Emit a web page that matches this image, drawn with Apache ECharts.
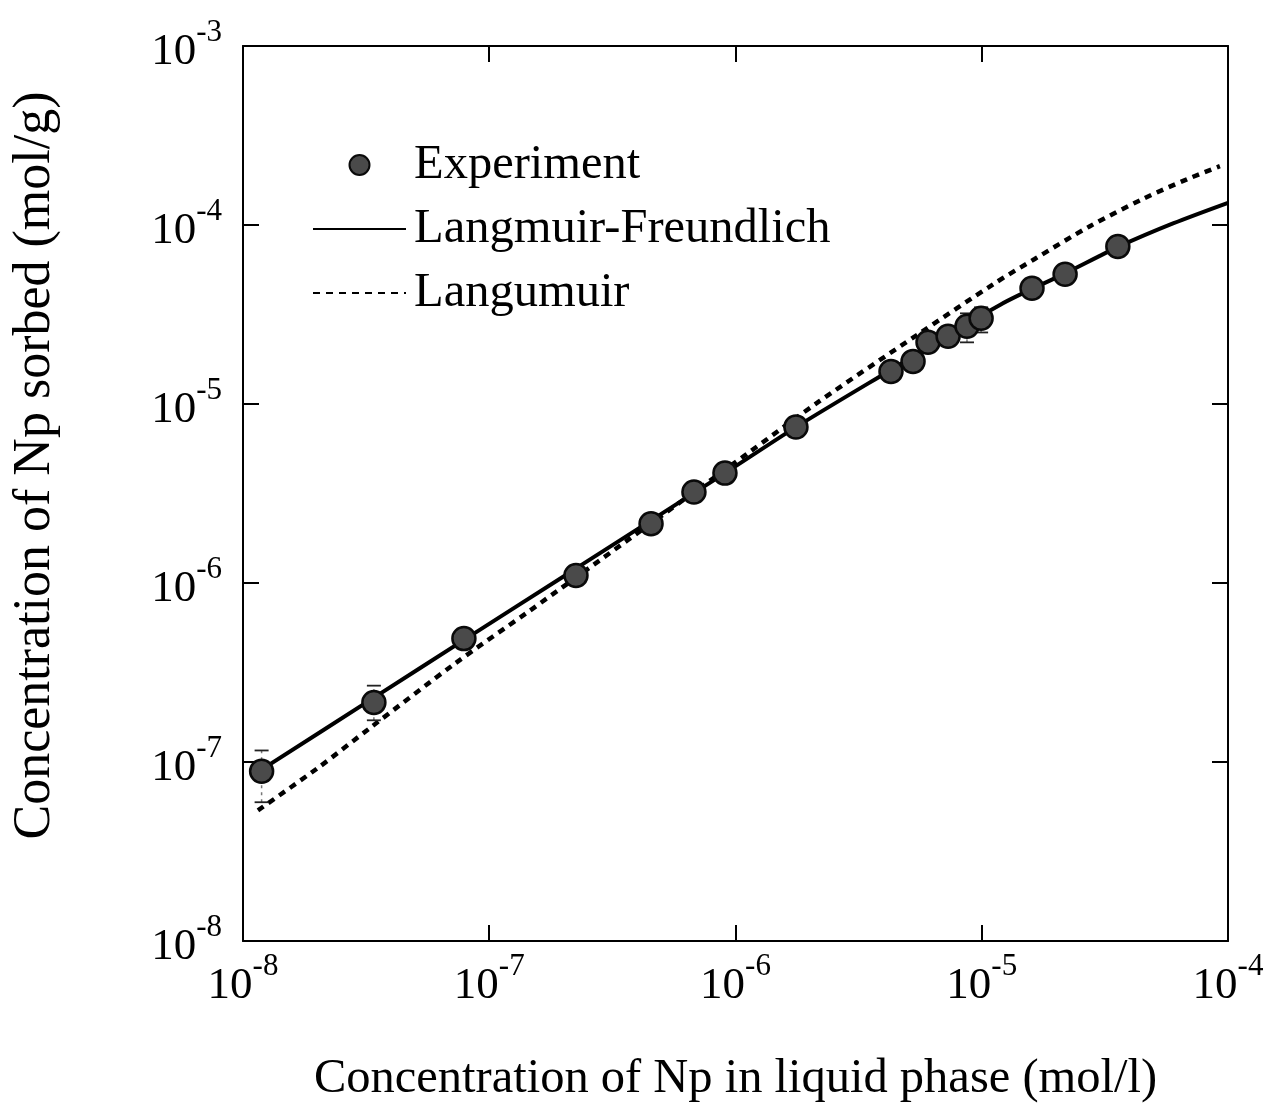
<!DOCTYPE html>
<html>
<head>
<meta charset="utf-8">
<script src="https://cdn.jsdelivr.net/npm/echarts@6/dist/echarts.min.js"></script>
<style>
html,body{margin:0;padding:0;background:#fff;}
#chart{width:1279px;height:1109px;}
</style>
</head>
<body>
<div id="chart"></div>
<script>
// Experimental points
const expC = [1.19e-8, 3.40e-8, 7.89e-8, 2.25e-7, 4.54e-7, 6.78e-7, 9.06e-7, 1.76e-6, 4.28e-6, 5.26e-6, 6.05e-6, 7.30e-6, 8.71e-6, 9.94e-6, 1.60e-5, 2.18e-5, 3.57e-5];
const expQ = [8.87e-8, 2.15e-7, 4.89e-7, 1.10e-6, 2.14e-6, 3.22e-6, 4.11e-6, 7.43e-6, 1.52e-5, 1.73e-5, 2.21e-5, 2.39e-5, 2.72e-5, 3.01e-5, 4.43e-5, 5.30e-5, 7.59e-5];
// Error bars
const errC = [1.19e-8, 3.40e-8, 8.71e-6, 9.94e-6];
const errLow = [5.96e-8, 1.71e-7, 2.21e-5, 2.51e-5];
const errHigh = [1.16e-7, 2.67e-7, 3.21e-5, 3.47e-5];
// Langmuir-Freundlich curve
const lfC = [1.11e-8, 3.44e-8, 8.05e-8, 2.07e-7, 4.09e-7, 9.06e-7, 1.76e-6, 4.24e-6, 1.19e-5, 2.18e-5, 3.64e-5, 5.98e-5, 1.0e-4];
const lfQ = [8.53e-8, 2.31e-7, 4.89e-7, 1.12e-6, 2.04e-6, 4.11e-6, 7.43e-6, 1.54e-5, 3.59e-5, 5.37e-5, 7.62e-5, 1.02e-4, 1.33e-4];
// Langmuir curve
const lC = [1.15e-8, 2.0e-8, 3.28e-8, 7.26e-8, 1.46e-7, 3.66e-7, 1.11e-6, 2.20e-6, 5.51e-6, 1.13e-5, 1.64e-5, 2.75e-5, 4.52e-5, 6.81e-5, 9.27e-5];
const lQ = [5.37e-8, 9.20e-8, 1.55e-7, 3.55e-7, 7.00e-7, 1.74e-6, 5.25e-6, 1.04e-5, 2.45e-5, 4.73e-5, 6.46e-5, 9.85e-5, 1.40e-4, 1.80e-4, 2.13e-4];
// Tick label exponents
const xTickExp = ['-8', '-7', '-6', '-5', '-4'];
const yTickExp = ['-8', '-7', '-6', '-5', '-4', '-3'];
const xName = 'Concentration of Np in liquid phase (mol/l)';
const yName = 'Concentration of Np sorbed (mol/g)';
const legendNames = ['Experiment', 'Langmuir-Freundlich', 'Langumuir'];

const FONT = '"Liberation Serif", "Times New Roman", serif';
const rich = {
  b: {fontSize: 45, fontFamily: FONT, color: '#000', lineHeight: 58, verticalAlign: 'bottom'},
  s: {fontSize: 31, fontFamily: FONT, color: '#000', lineHeight: 31, verticalAlign: 'top'}
};
function fmt(arr, min) {
  return function (v) {
    const e = Math.round(Math.log10(v));
    const s = arr[e - min];
    return '{b|10}{s|' + s + '}';
  };
}
const axisLine = {show: true, lineStyle: {color: '#000', width: 2}};
const axisTick = {show: true, inside: true, length: 16, lineStyle: {color: '#000', width: 2}};

const chart = echarts.init(document.getElementById('chart'), null, {renderer: 'canvas'});
chart.setOption({
  backgroundColor: '#fff',
  animation: false,
  grid: {left: 243, right: 51, top: 46, bottom: 165, containLabel: false},
  legend: {
    left: 312, top: 136, orient: 'vertical', padding: 0,
    itemWidth: 93, itemHeight: 20, itemGap: 6, itemSymbolKeepAspect: true,
    textStyle: {fontFamily: FONT, fontSize: 48.5, color: '#000', lineHeight: 50, padding: [8, 0, 0, 3]},
    data: [
      {name: legendNames[0]},
      {name: legendNames[1], itemStyle: {opacity: 0}},
      {name: legendNames[2], itemStyle: {opacity: 0}}
    ]
  },
  xAxis: [{
    type: 'log', logBase: 10, min: 1e-8, max: 1e-4, interval: 1,
    position: 'bottom',
    axisLine: axisLine, axisTick: axisTick, splitLine: {show: false}, minorTick: {show: false},
    axisLabel: {formatter: fmt(xTickExp, -8), rich: rich, margin: 10},
    name: xName, nameLocation: 'middle', nameGap: 114,
    nameTextStyle: {fontFamily: FONT, fontSize: 48.5, color: '#000'}
  }, {
    type: 'log', logBase: 10, min: 1e-8, max: 1e-4, interval: 1,
    position: 'top',
    axisLine: axisLine, axisTick: axisTick, splitLine: {show: false},
    axisLabel: {show: false}
  }],
  yAxis: [{
    type: 'log', logBase: 10, min: 1e-8, max: 1e-3, interval: 1,
    position: 'left',
    axisLine: axisLine, axisTick: axisTick, splitLine: {show: false}, minorTick: {show: false},
    axisLabel: {formatter: fmt(yTickExp, -8), rich: rich, margin: 21},
    name: yName, nameLocation: 'middle', nameGap: 182, nameRotate: 90,
    nameTextStyle: {fontFamily: FONT, fontSize: 52, color: '#000', padding: [0, 0, 0, 56]}
  }, {
    type: 'log', logBase: 10, min: 1e-8, max: 1e-3, interval: 1,
    position: 'right',
    axisLine: axisLine, axisTick: axisTick, splitLine: {show: false},
    axisLabel: {show: false}
  }],
  series: [
    {
      name: 'Langmuir-Freundlich', type: 'line', smooth: 0.3, symbol: 'none',
      xAxisIndex: 0, yAxisIndex: 0,
      lineStyle: {color: '#000', width: 4, type: 'solid'},
      itemStyle: {color: '#000'},
      data: lfC.map((c, i) => [c, lfQ[i]]), z: 2
    },
    {
      name: 'Langumuir', type: 'line', smooth: 0.3, symbol: 'none',
      xAxisIndex: 0, yAxisIndex: 0,
      lineStyle: {color: '#000', width: 4.5, type: [7, 6]},
      itemStyle: {color: '#000'},
      data: lC.map((c, i) => [c, lQ[i]]), z: 2
    },
    {
      name: 'errorbars', type: 'custom', xAxisIndex: 0, yAxisIndex: 0, z: 3,
      data: errC.map((c, i) => [c, errLow[i], errHigh[i]]),
      renderItem: function (params, api) {
        const lo = api.coord([api.value(0), api.value(1)]);
        const hi = api.coord([api.value(0), api.value(2)]);
        const w = 7;
        return {
          type: 'group',
          children: [
            {type: 'line', shape: {x1: lo[0], y1: lo[1], x2: hi[0], y2: hi[1]},
             style: {stroke: '#777', lineWidth: 1.5, lineDash: [3, 4]}},
            {type: 'line', shape: {x1: lo[0] - w, y1: lo[1], x2: lo[0] + w, y2: lo[1]},
             style: {stroke: '#222', lineWidth: 1.8}},
            {type: 'line', shape: {x1: hi[0] - w, y1: hi[1], x2: hi[0] + w, y2: hi[1]},
             style: {stroke: '#222', lineWidth: 1.8}}
          ]
        };
      }
    },
    {
      name: 'Experiment', type: 'scatter', symbol: 'circle', symbolSize: 23,
      xAxisIndex: 0, yAxisIndex: 0, z: 4,
      itemStyle: {color: '#4a4a4a', borderColor: '#0a0a0a', borderWidth: 2.5, opacity: 1},
      data: expC.map((c, i) => [c, expQ[i]])
    }
  ]
});
</script>
</body>
</html>
